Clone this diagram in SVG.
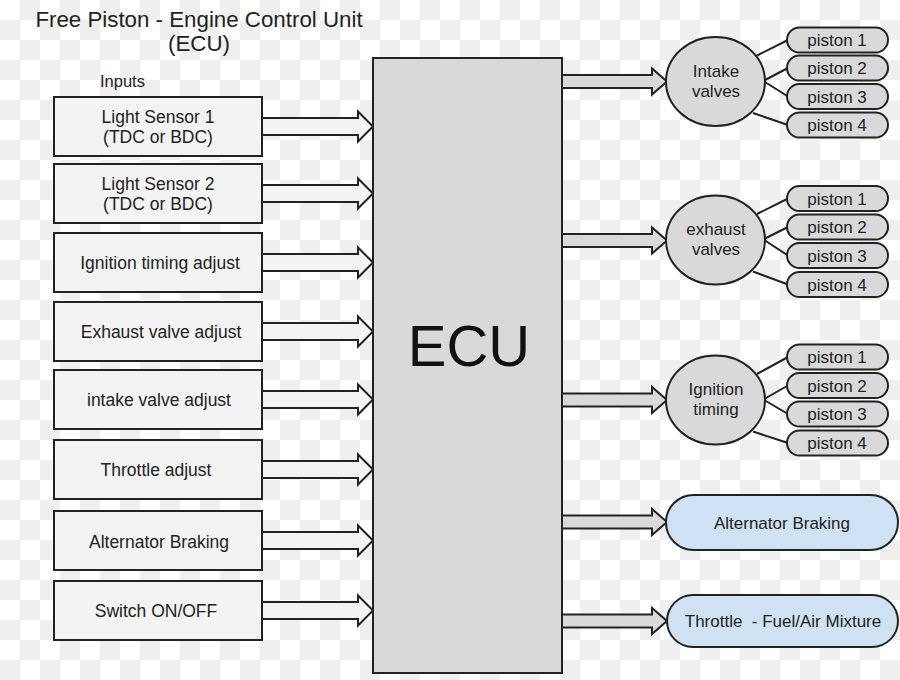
<svg xmlns="http://www.w3.org/2000/svg" width="900" height="680" viewBox="0 0 900 680">
<defs>
<pattern id="checker" x="0" y="0" width="40" height="40" patternUnits="userSpaceOnUse">
<rect x="0" y="0" width="40" height="40" fill="#ffffff"/>
<rect x="20" y="0" width="20" height="20" fill="#efefef"/>
<rect x="0" y="20" width="20" height="20" fill="#efefef"/>
</pattern>
<style>
text{font-family:"Liberation Sans",Arial,sans-serif;fill:#222;}
.in rect{fill:#f3f3f3;stroke:#222;stroke-width:2;}
.lbl{font-size:17px;text-anchor:middle;}
.in .lbl{font-size:17.5px;}
.ecu{fill:#d9d9d9;stroke:#222;stroke-width:2;}
.inarrow{fill:#f3f3f3;stroke:#222;stroke-width:2;stroke-linejoin:miter;}
.outarrow{fill:#d9d9d9;stroke:#222;stroke-width:2;}
.circ{fill:#d9d9d9;stroke:#222;stroke-width:2;}
.pill{fill:#d9d9d9;stroke:#222;stroke-width:2;}
.blue{fill:#cfe2f3;stroke:#222;stroke-width:2;}
.link{stroke:#222;stroke-width:2;fill:none;}
</style>
</defs>
<rect x="0" y="0" width="900" height="680" fill="url(#checker)"/>

<g id="title">
<text x="199" y="26.5" font-size="22.3" text-anchor="middle">Free Piston - Engine Control Unit</text>
<text x="199" y="50.5" font-size="22.3" text-anchor="middle">(ECU)</text>
<text x="100" y="86.5" font-size="16.5">Inputs</text>
</g>

<g id="connectors">
<polygon class="inarrow" points="262,118 358,118 358,111.5 373,126.5 358,141.5 358,135 262,135"/>
<polygon class="inarrow" points="262,185 358,185 358,178.5 373,193.5 358,208.5 358,202 262,202"/>
<polygon class="inarrow" points="262,254 358,254 358,247.5 373,262.5 358,277.5 358,271 262,271"/>
<polygon class="inarrow" points="262,323 358,323 358,316.5 373,331.5 358,346.5 358,340 262,340"/>
<polygon class="inarrow" points="262,391 358,391 358,384.5 373,399.5 358,414.5 358,408 262,408"/>
<polygon class="inarrow" points="262,461 358,461 358,454.5 373,469.5 358,484.5 358,478 262,478"/>
<polygon class="inarrow" points="262,532 358,532 358,525.5 373,540.5 358,555.5 358,549 262,549"/>
<polygon class="inarrow" points="262,602 358,602 358,595.5 373,610.5 358,625.5 358,619 262,619"/>

<polygon class="outarrow" points="562,75 652,75 652,68.5 667,81.5 652,94.5 652,88 562,88"/>
<polygon class="outarrow" points="562,234 652,234 652,227.5 667,240.5 652,253.5 652,247 562,247"/>
<polygon class="outarrow" points="562,393.5 652,393.5 652,387 667,400 652,413 652,406.5 562,406.5"/>
<polygon class="outarrow" points="562,515.5 652,515.5 652,509 667,522 652,535 652,528.5 562,528.5"/>
<polygon class="outarrow" points="562,614.5 652,614.5 652,608 667,621 652,634 652,627.5 562,627.5"/>

<path class="link" d="M757,55.5 L788,40 M765,80 L788,68 M765,82 L788,96.5 M753,113 L788,125"/>
<path class="link" d="M757,214 L788,198.5 M765,238.5 L788,227 M765,240.5 L788,255.5 M753,271.5 L788,284.5"/>
<path class="link" d="M757,374 L788,357 M765,398.5 L788,385.5 M765,400.5 L788,414 M753,431.5 L788,443"/>
</g>

<g id="ecu">
<rect class="ecu" x="373" y="58" width="189" height="615"/>
<text x="469" y="366" font-size="58" text-anchor="middle" style="fill:#111">ECU</text>
</g>

<g id="in-light1" class="in"><rect x="54" y="97" width="208" height="59"/>
<text class="lbl" x="158" y="122.5">Light Sensor 1</text><text class="lbl" x="158" y="142.5">(TDC or BDC)</text></g>
<g id="in-light2" class="in"><rect x="54" y="164" width="208" height="59"/>
<text class="lbl" x="158" y="189.5">Light Sensor 2</text><text class="lbl" x="158" y="209.5">(TDC or BDC)</text></g>
<g id="in-ignition" class="in"><rect x="54" y="233" width="208" height="59"/>
<text class="lbl" x="160" y="269">Ignition timing adjust</text></g>
<g id="in-exhaust" class="in"><rect x="54" y="302" width="208" height="59"/>
<text class="lbl" x="161" y="338">Exhaust valve adjust</text></g>
<g id="in-intake" class="in"><rect x="54" y="370" width="208" height="59"/>
<text class="lbl" x="159" y="406">intake valve adjust</text></g>
<g id="in-throttle" class="in"><rect x="54" y="440" width="208" height="59"/>
<text class="lbl" x="156" y="476">Throttle adjust</text></g>
<g id="in-alternator" class="in"><rect x="54" y="511" width="208" height="59"/>
<text class="lbl" x="159" y="548">Alternator Braking</text></g>
<g id="in-switch" class="in"><rect x="54" y="581" width="208" height="59"/>
<text class="lbl" x="156" y="617">Switch ON/OFF</text></g>

<g id="intake-valves"><ellipse class="circ" cx="715.5" cy="81.5" rx="49.5" ry="44.5"/>
<text class="lbl" x="716" y="76.5">Intake</text><text class="lbl" x="716" y="96.5">valves</text></g>
<g id="exhaust-valves"><ellipse class="circ" cx="715.5" cy="240" rx="49.5" ry="44.5"/>
<text class="lbl" x="716" y="235">exhaust</text><text class="lbl" x="716" y="255">valves</text></g>
<g id="ignition-timing"><ellipse class="circ" cx="715.5" cy="400" rx="49.5" ry="44.5"/>
<text class="lbl" x="716" y="395">Ignition</text><text class="lbl" x="716" y="415">timing</text></g>

<g id="intake-p1"><rect class="pill" x="787" y="27.5" width="101" height="25" rx="12.5"/><text class="lbl" x="837" y="46">piston 1</text></g>
<g id="intake-p2"><rect class="pill" x="787" y="55.5" width="101" height="25" rx="12.5"/><text class="lbl" x="837" y="74">piston 2</text></g>
<g id="intake-p3"><rect class="pill" x="787" y="84" width="101" height="25" rx="12.5"/><text class="lbl" x="837" y="102.5">piston 3</text></g>
<g id="intake-p4"><rect class="pill" x="787" y="112.5" width="101" height="25" rx="12.5"/><text class="lbl" x="837" y="131">piston 4</text></g>

<g id="exhaust-p1"><rect class="pill" x="787" y="186" width="101" height="25" rx="12.5"/><text class="lbl" x="837" y="204.5">piston 1</text></g>
<g id="exhaust-p2"><rect class="pill" x="787" y="214.5" width="101" height="25" rx="12.5"/><text class="lbl" x="837" y="233">piston 2</text></g>
<g id="exhaust-p3"><rect class="pill" x="787" y="243" width="101" height="25" rx="12.5"/><text class="lbl" x="837" y="261.5">piston 3</text></g>
<g id="exhaust-p4"><rect class="pill" x="787" y="272" width="101" height="25" rx="12.5"/><text class="lbl" x="837" y="290.5">piston 4</text></g>

<g id="ignition-p1"><rect class="pill" x="787" y="344.5" width="101" height="25" rx="12.5"/><text class="lbl" x="837" y="363">piston 1</text></g>
<g id="ignition-p2"><rect class="pill" x="787" y="373" width="101" height="25" rx="12.5"/><text class="lbl" x="837" y="391.5">piston 2</text></g>
<g id="ignition-p3"><rect class="pill" x="787" y="401.5" width="101" height="25" rx="12.5"/><text class="lbl" x="837" y="420">piston 3</text></g>
<g id="ignition-p4"><rect class="pill" x="787" y="430.5" width="101" height="25" rx="12.5"/><text class="lbl" x="837" y="449">piston 4</text></g>

<g id="out-alternator"><rect class="blue" x="666" y="495" width="232" height="55" rx="27.5"/>
<text class="lbl" x="782" y="528.5">Alternator Braking</text></g>
<g id="out-throttle"><rect class="blue" x="667" y="595" width="231" height="52" rx="26"/>
<text class="lbl" x="783" y="627" style="white-space:pre">Throttle  - Fuel/Air Mixture</text></g>
</svg>
